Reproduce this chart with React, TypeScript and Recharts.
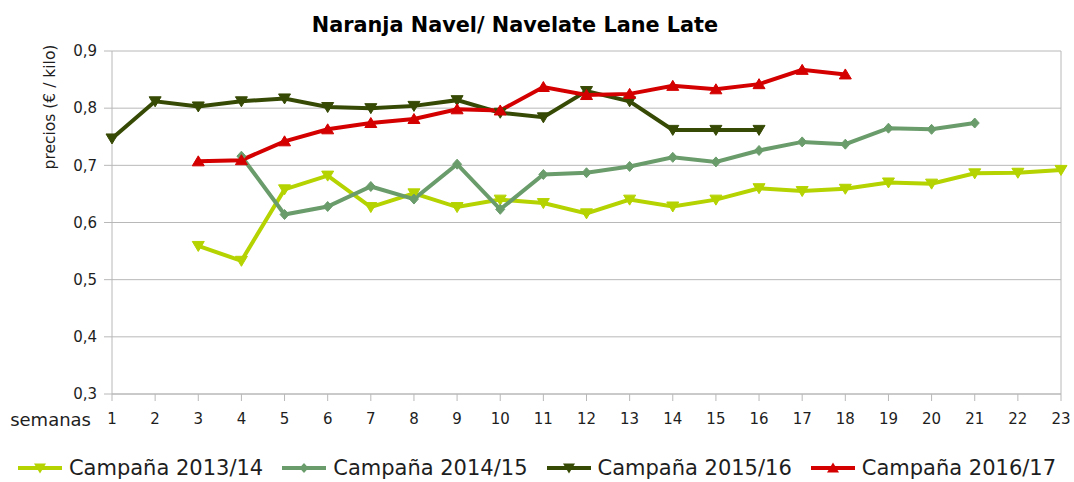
import React from 'react';
import { LineChart, Line, XAxis, YAxis, CartesianGrid, Legend, ReferenceLine } from 'recharts';

const weeks = [1,2,3,4,5,6,7,8,9,10,11,12,13,14,15,16,17,18,19,20,21,22,23];
const yTicks = [0.3,0.4,0.5,0.6,0.7,0.8,0.9];

const s2013 = [null,null,0.559,0.533,0.658,0.682,0.627,0.651,0.627,0.640,0.634,0.616,0.640,0.628,0.640,0.660,0.655,0.659,0.670,0.668,0.686,0.687,0.692];
const s2014 = [null,null,null,0.716,0.614,0.628,0.663,0.641,0.702,0.623,0.684,0.687,0.698,0.714,0.706,0.726,0.741,0.737,0.765,0.763,0.774,null,null];
const s2015 = [0.747,0.812,0.803,0.812,0.817,0.802,0.800,0.804,0.814,0.792,0.784,0.830,0.812,0.762,0.762,0.762,null,null,null,null,null,null,null];
const s2016 = [null,null,0.707,0.709,0.742,0.763,0.774,0.781,0.798,0.796,0.837,0.823,0.825,0.839,0.833,0.842,0.867,0.859,null,null,null,null,null];

const seriesNames = ['Campaña 2013/14','Campaña 2014/15','Campaña 2015/16','Campaña 2016/17'];
const seriesKeys = ['s2013','s2014','s2015','s2016'];
const colors = ['#b4d300','#6a9c6b','#374a05','#d40000'];
const shapes = ['down','diamond','down','up'];

const data = weeks.map((w, i) => ({
  week: w,
  s2013: s2013[i],
  s2014: s2014[i],
  s2015: s2015[i],
  s2016: s2016[i],
}));

const FONT = '"DejaVu Sans", sans-serif';
const GRID = '#b8b8b8';
const TEXT = '#1e1e1e';

function markerPath(shape: string, cx: number, cy: number) {
  if (shape === 'down') {
    return `M${cx - 6},${cy - 4.5} L${cx + 6},${cy - 4.5} L${cx},${cy + 5.5} Z`;
  }
  if (shape === 'up') {
    return `M${cx - 6},${cy + 4.5} L${cx + 6},${cy + 4.5} L${cx},${cy - 5.5} Z`;
  }
  return `M${cx},${cy - 5} L${cx + 4.5},${cy} L${cx},${cy + 5} L${cx - 4.5},${cy} Z`;
}

const makeDot = (shape: string, color: string) => (props: any) => {
  const { cx, cy, index, value } = props;
  if (cx == null || cy == null || value == null) return <g key={`e-${index}`} />;
  return <path key={`m-${index}`} d={markerPath(shape, cx, cy)} fill={color} stroke={color} strokeWidth={1} />;
};

const LegendContent = () => (
  <div style={{ display: 'flex', justifyContent: 'center', alignItems: 'center', gap: 19, fontFamily: FONT, fontSize: 21, color: TEXT, lineHeight: '28px' }}>
    {seriesNames.map((n, i) => (
      <div key={n} style={{ display: 'flex', alignItems: 'center' }}>
        <svg width={44} height={16} style={{ marginRight: 7 }}>
          <line x1={0} y1={8} x2={44} y2={8} stroke={colors[i]} strokeWidth={4} />
          <path d={markerPath(shapes[i], 22, 8)} fill={colors[i]} />
        </svg>
        <span>{n}</span>
      </div>
    ))}
  </div>
);

const SemanasLabel = (props: any) => {
  const vb = props.viewBox || {};
  return (
    <text x={vb.x - 21} y={419} textAnchor="end" dominantBaseline="central" fontFamily={FONT} fontSize={18} fill={TEXT}>semanas</text>
  );
};

export default function App() {
  return (
    <div style={{ position: 'absolute', left: 0, top: 0, width: 1074, height: 482, background: '#fff' }}>
      <LineChart width={1074} height={482} data={data} margin={{ top: 51, right: 13, bottom: 52, left: 0 }}>
        <CartesianGrid stroke={GRID} vertical={false} />
        <XAxis
          dataKey="week"
          type="number"
          domain={[1, 23]}
          ticks={weeks}
          interval={0}
          stroke={GRID}
          tickSize={7}
          tickMargin={12}
          height={36}
          tick={{ fill: TEXT, fontSize: 15, fontFamily: FONT }}
          label={<SemanasLabel />}
        />
        <YAxis
          type="number"
          domain={[0.3, 0.9]}
          ticks={yTicks}
          width={112}
          stroke={GRID}
          tickSize={8}
          tickMargin={7}
          tickFormatter={(v: number) => v.toFixed(1).replace('.', ',')}
          tick={{ fill: TEXT, fontSize: 15, fontFamily: FONT }}
        />
        <ReferenceLine x={23} stroke={GRID} />
        {seriesKeys.map((k, i) => (
          <Line
            key={k}
            dataKey={k}
            name={seriesNames[i]}
            stroke={colors[i]}
            strokeWidth={4}
            dot={makeDot(shapes[i], colors[i])}
            activeDot={false}
            connectNulls={false}
            isAnimationActive={false}
          />
        ))}
        <Legend verticalAlign="middle" content={<LegendContent />} wrapperStyle={{ top: 454, left: 0, width: 1074 }} />
      </LineChart>
      <svg width={1074} height={482} style={{ position: 'absolute', left: 0, top: 0, pointerEvents: 'none' }}>
        <text x={515} y={32} textAnchor="middle" fontFamily={FONT} fontWeight={700} fontSize={20.8} fill="#000">Naranja Navel/ Navelate Lane Late</text>
        <text x={0} y={0} transform="translate(50,107) rotate(-90)" textAnchor="middle" dominantBaseline="central" fontFamily={FONT} fontSize={15.5} fill={TEXT}>precios (€ / kilo)</text>
      </svg>
    </div>
  );
}
